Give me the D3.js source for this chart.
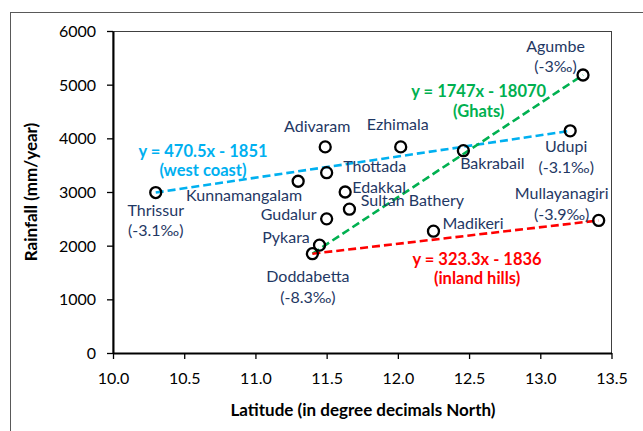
<!DOCTYPE html>
<html><head><meta charset="utf-8">
<script src="https://cdn.jsdelivr.net/npm/d3@7"></script>
<style>body{margin:0;background:#fff}svg{display:block}</style>
</head><body>
<svg id="c" width="643" height="431"></svg>
<script>
// ---- data ----
const stations = ["Thrissur","Kunnamangalam","Adivaram","Thottada","Edakkal","Sultan Bathery","Gudalur","Pykara","Doddabetta","Ezhimala","Bakrabail","Agumbe","Udupi","Madikeri","Mullayanagiri"];
const latitude = [10.30,11.30,11.49,11.50,11.63,11.66,11.50,11.45,11.40,12.02,12.46,13.30,13.21,12.25,13.41];
const rainfall = [2990,3200,3840,3360,3000,2680,2500,2010,1850,3840,3770,5180,4140,2270,2470];
const gradients = {"Thrissur":"(-3.1‰)","Agumbe":"(-3‰)","Udupi":"(-3.1‰)","Mullayanagiri":"(-3.9‰)","Doddabetta":"(-8.3‰)"};
const trendNames = ["west coast","Ghats","inland hills"];
const trendEquations = ["y = 470.5x - 1851","y = 1747x - 18070","y = 323.3x - 1836"];
const trendFrom = ["Thrissur","Doddabetta","Doddabetta"];
const trendTo = ["Udupi","Agumbe","Mullayanagiri"];
const xTicks = [10.0,10.5,11.0,11.5,12.0,12.5,13.0,13.5];
const yTicks = [0,1000,2000,3000,4000,5000,6000];

// ---- layout / style ----
const trendColors = ["#00B0F0","#00B050","#FF0000"];
const navy = "#1F3864";
const font = "Lato, 'Open Sans', sans-serif";
const M = {l:113, r:611.5, t:31, b:353};
// label centers as offsets (px) from the station marker
const labelOff = {
  "Thrissur":[0,17.5],"Kunnamangalam":[-54,14],"Adivaram":[-8,-21],"Thottada":[48,-6],
  "Edakkal":[34,-5],"Sultan Bathery":[63,-9],"Gudalur":[-38,-4.5],"Pykara":[-33.5,-8],
  "Doddabetta":[-4.5,23],"Ezhimala":[-3,-23],"Bakrabail":[29,12.6],"Agumbe":[-27.5,-29],
  "Udupi":[-4,16],"Madikeri":[39.5,-8],"Mullayanagiri":[-37,-27]
};
const gradOff = 20.5;
// equation label centers as offsets from the trend line midpoint
const eqOff = [[-160,-10.6],[31,-73],[21.5,22]];

const svg = d3.select("#c");
const x = d3.scaleLinear().domain([10,13.5]).range([M.l,M.r]);
const y = d3.scaleLinear().domain([0,6000]).range([M.b,M.t]);

// outer frame
svg.append("rect").attr("x",10.5).attr("y",12.5).attr("width",700).attr("height",500)
  .attr("fill","none").attr("stroke","#595959").attr("stroke-width",1);
// plot frame
svg.append("rect").attr("x",M.l).attr("y",M.t+0.5).attr("width",M.r-M.l).attr("height",M.b-M.t)
  .attr("fill","none").attr("stroke","#404040").attr("stroke-width",1);

// axes
const xAxis = d3.axisBottom(x).tickValues(xTicks).tickFormat(d3.format(".1f")).tickSize(6).tickSizeOuter(0);
const yAxis = d3.axisLeft(y).tickValues(yTicks).tickFormat(d3.format("d")).tickSize(6).tickSizeOuter(0);
const gx = svg.append("g").attr("transform",`translate(0,${M.b})`).call(xAxis);
const gy = svg.append("g").attr("transform",`translate(${M.l},0)`).call(yAxis);
[gx,gy].forEach(g=>{
  g.select(".domain").attr("stroke","#000").attr("stroke-width",2);
  g.selectAll(".tick line").attr("stroke","#000").attr("stroke-width",1.3);
  g.selectAll(".tick text").attr("fill","#000").style("font-family",font).style("font-size","16px");
});
gx.selectAll(".tick text").attr("dy","0").attr("y",31);
gy.selectAll(".tick text").attr("x",-17).attr("dy","0.35em");

// axis titles
svg.append("text").attr("x",363).attr("y",416).attr("text-anchor","middle")
  .style("font-family",font).style("font-size","17px").style("font-weight","bold")
  .text("Latitude (in degree decimals North)");
svg.append("text").attr("transform","translate(37,192) rotate(-90)").attr("text-anchor","middle")
  .style("font-family",font).style("font-size","17px").style("font-weight","bold")
  .text("Rainfall (mm/year)");

const idx = n => stations.indexOf(n);
// trend lines
trendNames.forEach((t,i)=>{
  const a = idx(trendFrom[i]), b = idx(trendTo[i]);
  svg.append("line")
    .attr("x1",x(latitude[a])).attr("y1",y(rainfall[a]))
    .attr("x2",x(latitude[b])).attr("y2",y(rainfall[b]))
    .attr("stroke",trendColors[i]).attr("stroke-width",2.6).attr("stroke-dasharray","8,4");
  const mx = (x(latitude[a])+x(latitude[b]))/2, my = (y(rainfall[a])+y(rainfall[b]))/2;
  const g = svg.append("g").style("font-family",font).style("font-size","16.5px").style("font-weight","bold")
    .attr("fill",trendColors[i]).attr("text-anchor","middle");
  g.append("text").attr("x",mx+eqOff[i][0]).attr("y",my+eqOff[i][1]).attr("dy","0.35em").text(trendEquations[i]);
  g.append("text").attr("x",mx+eqOff[i][0]).attr("y",my+eqOff[i][1]+19.5).attr("dy","0.35em").text("("+t+")");
});

// markers
svg.append("g").selectAll("circle").data(stations).join("circle")
  .attr("cx",(d,i)=>x(latitude[i])).attr("cy",(d,i)=>y(rainfall[i])).attr("r",5.5)
  .attr("fill","none").attr("stroke","#000").attr("stroke-width",2.3);

// station labels
const lg = svg.append("g").style("font-family",font).style("font-size","16px").attr("fill",navy).attr("text-anchor","middle");
stations.forEach((s,i)=>{
  const px = x(latitude[i])+labelOff[s][0], py = y(rainfall[i])+labelOff[s][1];
  lg.append("text").attr("x",px).attr("y",py).attr("dy","0.35em").text(s);
  if (gradients[s]) lg.append("text").attr("x",px).attr("y",py+gradOff).attr("dy","0.35em").text(gradients[s]);
});
</script>
</body></html>
